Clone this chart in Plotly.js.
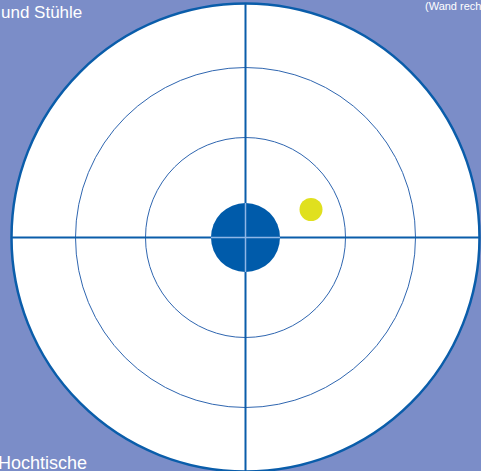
<!DOCTYPE html>
<html>
<head>
<meta charset="utf-8">
<script src="https://cdn.plot.ly/plotly-3.0.1.min.js"></script>
<style>html,body{margin:0;padding:0;background:#7B8DC8;}#chart{width:481px;height:471px;}</style>
</head>
<body>
<div id="chart"></div>
<script>
// Ring radii (chart units)
const ringRadii = [100, 170, 234];
// Markers: name, x, y, radius
const pointNames = ["Mitte", "Punkt"];
const pointX = [0, 65.5];
const pointY = [0, 28];
const pointR = [34.5, 11.5];
// Labels
const labelTexts = ["und Stühle", "(Wand rech", "Hochtische"];

const BG = "#7B8DC8";
const DARK = "#0A5DAA";
const DOT = "#005BAA";
const YEL = "#E0E01E";

const outer = ringRadii[ringRadii.length - 1];
const shapes = [];
// outer white disc
shapes.push({type: "circle", xref: "x", yref: "y", x0: -outer, x1: outer, y0: -outer, y1: outer,
  fillcolor: "white", line: {color: DARK, width: 2.5}, layer: "below"});
// inner rings
ringRadii.slice(0, -1).forEach(r => shapes.push({type: "circle", xref: "x", yref: "y",
  x0: -r, x1: r, y0: -r, y1: r, fillcolor: "rgba(0,0,0,0)", line: {color: "#2F66B0", width: 1}, layer: "below"}));
// crosshair
shapes.push({type: "line", xref: "x", yref: "y", x0: -outer, x1: outer, y0: 0, y1: 0, line: {color: DARK, width: 2}, layer: "below"});
shapes.push({type: "line", xref: "x", yref: "y", x0: 0, x1: 0, y0: -outer, y1: outer, line: {color: DARK, width: 2}, layer: "below"});
// dots
const dotColors = [DOT, YEL];
pointNames.forEach((n, i) => shapes.push({type: "circle", xref: "x", yref: "y",
  x0: pointX[i] - pointR[i], x1: pointX[i] + pointR[i], y0: pointY[i] - pointR[i], y1: pointY[i] + pointR[i],
  fillcolor: dotColors[i], line: {width: 0}, layer: "above"}));
// light crosshair over centre dot
const cr = pointR[0];
shapes.push({type: "line", xref: "x", yref: "y", x0: -cr, x1: cr, y0: 0, y1: 0, line: {color: "#8EB6E6", width: 1.5}, layer: "above"});
shapes.push({type: "line", xref: "x", yref: "y", x0: 0, x1: 0, y0: -cr, y1: cr, line: {color: "#8EB6E6", width: 1.5}, layer: "above"});

const FONT = "Liberation Sans, Arial, sans-serif";
const annotations = [
  {text: labelTexts[0], xref: "paper", yref: "paper", x: -1/481, y: 1 - 1/471, xanchor: "left", yanchor: "top",
   showarrow: false, font: {family: FONT, size: 17, color: "white"}},
  {text: labelTexts[1], xref: "paper", yref: "paper", x: 423/481, y: 1 + 2/471, xanchor: "left", yanchor: "top",
   showarrow: false, font: {family: FONT, size: 11, color: "white"}},
  {text: labelTexts[2], xref: "paper", yref: "paper", x: -4/481, y: -4/471, xanchor: "left", yanchor: "bottom",
   showarrow: false, font: {family: FONT, size: 18, color: "white"}}
];

const layout = {
  width: 481, height: 471,
  margin: {l: 0, r: 0, t: 0, b: 0},
  paper_bgcolor: BG, plot_bgcolor: BG,
  showlegend: false,
  xaxis: {range: [-245.5, 235.5], visible: false, showgrid: false, zeroline: false, fixedrange: true},
  yaxis: {range: [-233.5, 237.5], visible: false, showgrid: false, zeroline: false, fixedrange: true},
  shapes: shapes,
  annotations: annotations
};

Plotly.newPlot("chart", [{x: pointX, y: pointY, type: "scatter", mode: "markers", text: pointNames,
  marker: {size: 1, color: "rgba(0,0,0,0)"}, hoverinfo: "text"}], layout, {staticPlot: true, displayModeBar: false});
</script>
</body>
</html>
